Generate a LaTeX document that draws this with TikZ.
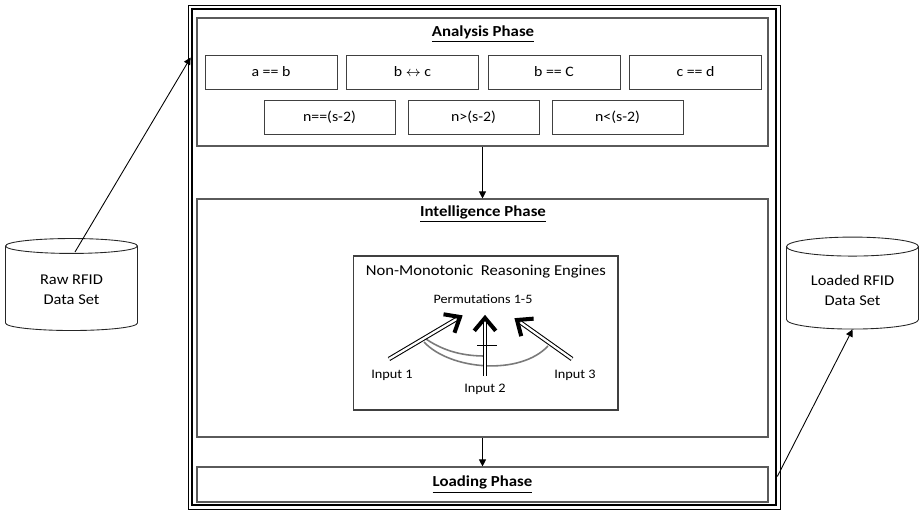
\documentclass[tikz,border=0pt]{standalone}
\usepackage{fontspec}
\setmainfont{Carlito}[FakeStretch=1.1]
\usepackage{tikz}
\usetikzlibrary{arrows.meta,shapes,positioning,calc}

\definecolor{boxgray}{HTML}{5A5A5A}
\definecolor{arcgray}{HTML}{7A7A7A}

\tikzset{
    phasebox/.style={draw=boxgray, line width=0.65pt, minimum width=11.42cm, inner sep=0pt},
    phasetitle/.style={font=\fontsize{8.7}{10}\selectfont\bfseries},
    condbox/.style={draw=black!75, line width=0.5pt, minimum width=2.64cm, minimum height=0.68cm, font=\fontsize{8.2}{10}\selectfont},
    store/.style={draw=black!85, line width=0.5pt, cylinder, shape border rotate=90, aspect=0.2,
        minimum width=2.64cm, minimum height=1.84cm, align=center, font=\fontsize{8.5}{11.3}\selectfont},
    inlabel/.style={font=\fontsize{7.4}{9}\selectfont},
    flow/.style={-{Triangle[length=4pt,width=4pt]}, line width=0.5pt},
    inarrow/.style={double, double distance=1.3pt, line width=0.6pt, shorten >=2.5pt},
}

% thick open head of an input arrow: #1 tip, #2 tail
\newcommand{\headchevron}[2]{%
    \draw[line width=2.3pt] ($(#1)!9.5pt!-40:(#2)$) -- (#1) -- ($(#1)!9.5pt!40:(#2)$);}

\begin{document}
\begin{tikzpicture}[x=0.02cm, y=-0.02cm]
    \useasboundingbox (0,0) rectangle (924,510);

    % outer frame
    \node[draw, line width=0.5pt, minimum width=11.84cm, minimum height=10.08cm, inner sep=0pt] (rim) at (484,257) {};
    \node[draw, line width=1.6pt, minimum width=11.68cm, minimum height=9.92cm, inner sep=0pt] (frame) at (484,257) {};

    % analysis phase
    \node[phasebox, minimum height=2.56cm] (analysis) at (482.5,82) {};
    \node[phasetitle] (atitle) at (483,34) {\underline{Analysis Phase}};
    \foreach \lbl [count=\i] in {a == b, b $\leftrightarrow$ c, b == C, c == d}
        \node[condbox] (c\i) at (129.5+141.5*\i, 72) {\lbl};
    \foreach \lbl [count=\i] in {n==(s-2), n>(s-2), n<(s-2)}
        \node[condbox, minimum width=2.62cm] (d\i) at (185.5+144*\i, 117.5) {\lbl};

    % intelligence phase
    \node[phasebox, minimum height=4.76cm] (intel) at (482.5,318) {};
    \node[phasetitle] (ititle) at (483,214) {\underline{Intelligence Phase}};
    \node[draw=black!75, line width=0.6pt, minimum width=5.3cm, minimum height=3.08cm] (engine) at (485.5,333) {};
    \node[font=\fontsize{8.6}{10}\selectfont] (etitle) at (486,272) {Non-Monotonic\ \ Reasoning Engines};
    \node[font=\fontsize{7.3}{9}\selectfont] (perm) at (483,299) {Permutations 1-5};

    \node[inlabel] (in1) at (392,375) {Input 1};
    \node[inlabel] (in2) at (485,389) {Input 2};
    \node[inlabel] (in3) at (575,375) {Input 3};
    \coordinate (t1) at (389,359); \coordinate (h1) at (460,317);
    \coordinate (t2) at (485,376); \coordinate (h2) at (485,318);
    \coordinate (t3) at (572,359); \coordinate (h3) at (517,320);

    % arcs under the inputs
    \draw[arcgray, line width=0.9pt] (426,339) .. controls (445,352) and (465,356) .. (485,356);
    \draw[arcgray, line width=0.9pt] (424,342) .. controls (450,370) and (520,376) .. (548,346);

    \foreach \i in {1,2,3} {
        \draw[inarrow] (t\i) -- (h\i);
        \headchevron{h\i}{t\i}
    }
    \draw[line width=0.5pt] (477,345) -- (497,345);

    % loading phase
    \node[phasebox, phasetitle, minimum height=0.7cm] (loading) at (482.5,484.5) {\underline{Loading Phase}};

    \draw[flow] (analysis) -- (intel);
    \draw[flow] (intel) -- (loading);

    % data sets
    \node[store] (raw) at (71.5,290) {Raw RFID\\Data Set};
    \node[store] (loaded) at (852.5,290) {Loaded RFID\\Data Set};
    \coordinate (rawtop) at (75,252);
    \draw[flow] (rawtop) -- ($(frame.north west)!0.1!(frame.south west)$);
    \draw[flow] ($(frame.north east)!0.94!(frame.south east)$) -- (loaded.south);
\end{tikzpicture}
\end{document}
